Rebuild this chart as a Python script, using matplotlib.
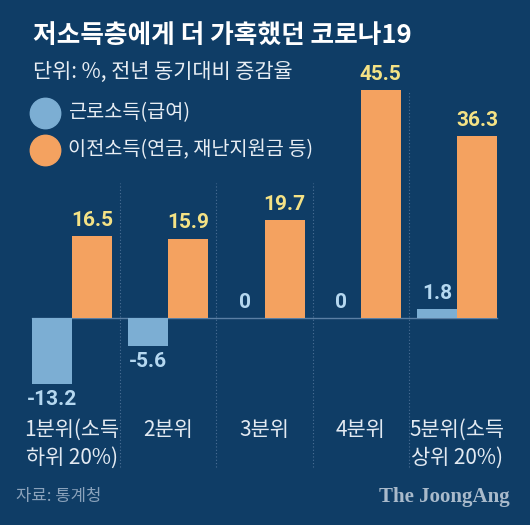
import matplotlib.pyplot as plt

plt.rcParams['font.family'] = ['Noto Sans CJK KR', 'DejaVu Sans']

# 데이터
categories = ['1분위(소득\n하위 20%)', '2분위', '3분위', '4분위', '5분위(소득\n상위 20%)']
labor = [-13.2, -5.6, 0, 0, 1.8]
transfer = [16.5, 15.9, 19.7, 45.5, 36.3]
series_names = ['근로소득(급여)', '이전소득(연금, 재난지원금 등)']

title = '저소득층에게 더 가혹했던 코로나19'
subtitle = '단위: %, 전년 동기대비 증감율'
source = '자료: 통계청'
brand = 'The JoongAng'

BG = '#0f3d66'
BLUE = '#7caed3'
ORANGE = '#f4a260'
YELLOW = '#f4e285'
LIGHTBLUE = '#b5d8f0'

W, H = 530, 525
ZERO_Y = 318      # 0 위치 (픽셀)
PX_PER_UNIT = 5.0
GROUP_PX = 96.25
FIRST_X = 72


def py(y):
    # 픽셀 y -> 데이터 y
    return (ZERO_Y - y) / PX_PER_UNIT


def px(x):
    # 픽셀 x -> 데이터 x
    return (x - FIRST_X) / GROUP_PX


def fx(x):
    return x / W


def fy(y):
    return 1 - y / H


fig = plt.figure(figsize=(W / 100, H / 100), dpi=100, facecolor=BG)
ax = fig.add_axes([0, 0, 1, 1])
ax.set_facecolor(BG)
ax.set_xlim(px(0), px(W))
ax.set_ylim(py(H), py(0))
ax.axis('off')

bw = 40 / GROUP_PX
xs = list(range(len(categories)))

# 구분선
for i in range(len(categories) - 1):
    top = py(92) if i == len(categories) - 2 else py(183)
    ax.vlines(i + 0.5, py(467), top, colors='#4b6f95', linestyles=(0, (1, 2)), lw=0.8)

ax.plot([-bw, xs[-1] + bw], [0, 0], color='#5a7fa4', lw=1, zorder=1)

ax.bar([x - bw / 2 for x in xs], labor, width=bw, color=BLUE, zorder=2)
ax.bar([x + bw / 2 for x in xs], transfer, width=bw, color=ORANGE, zorder=2)

num_font = dict(family='Roboto', weight='bold', fontsize=15)
for x, v in zip(xs, labor):
    txt = '%g' % v
    if v < 0:
        ax.text(x - bw / 2, v - 1.2, txt, ha='center', va='top', color=LIGHTBLUE, **num_font)
    else:
        ax.text(x - bw / 2, v + 1.2, txt, ha='center', va='bottom', color=LIGHTBLUE, **num_font)
for x, v in zip(xs, transfer):
    ax.text(x + bw / 2, v + 1.2, '%g' % v, ha='center', va='bottom', color=YELLOW, **num_font)

for x, c in zip(xs, categories):
    ax.text(x, py(419), c, ha='center', va='top', color='#e3eaf2', fontsize=15,
            fontweight='light', linespacing=1.35)

# 제목
fig.text(fx(33), fy(35), title, fontsize=18.5, fontweight='bold', color='white', va='center')
fig.text(fx(33), fy(72), subtitle, fontsize=15, color='#e8eef4', va='center', fontweight='light')

# 범례
for yy, col, name in zip([113, 150], [BLUE, ORANGE], series_names):
    ax.scatter([px(45)], [py(yy)], s=480, color=col, zorder=3, clip_on=False)
    fig.text(fx(68), fy(yy), name, fontsize=14.2, color='#e8eef4', va='center', fontweight='light')

fig.text(fx(16), fy(497), source, fontsize=12, color='#8aa2bb', va='center')
fig.text(fx(510), fy(497), brand, fontsize=15, color='#a9bacb', va='center', ha='right',
         family='Liberation Serif', fontweight='bold')

fig.savefig('out.png', dpi=100, facecolor=BG)
